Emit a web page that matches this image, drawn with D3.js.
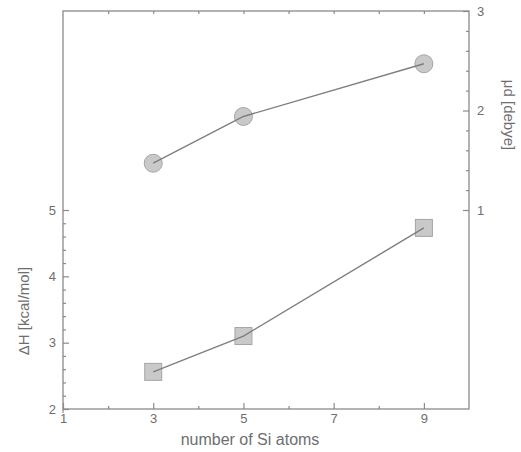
<!DOCTYPE html>
<html>
<head>
<meta charset="utf-8">
<script src="https://cdn.jsdelivr.net/npm/d3@7"></script>
<style>
  body { margin: 0; background: #fff; }
  text { font-family: "Liberation Sans", Arial, sans-serif; fill: #6e6e6e; }
</style>
</head>
<body>
<div id="chart"></div>
<script>
// data
var atoms = [3, 5, 9];
var deltaH = [2.56, 3.10, 4.73];      // kcal/mol, left axis (squares)
var dipole = [1.47, 1.94, 2.47];      // debye, right axis (circles)
var xTicks = [1, 3, 5, 7, 9];
var leftTicks = [2, 3, 4, 5];
var rightTicks = [1, 2, 3];

var outerWidth = 521, outerHeight = 452;
var margin = { left: 63, right: 469, top: 11, bottom: 409 };

var svg = d3.select("#chart").append("svg")
    .attr("width", outerWidth)
    .attr("height", outerHeight);

var x = d3.scaleLinear().domain([1, 10]).range([margin.left, margin.right]);
var yL = d3.scaleLinear().domain([2, 8]).range([margin.bottom, margin.top]);
var yR = d3.scaleLinear().domain([-1, 3]).range([margin.bottom, margin.top]);

var axisColor = "#8a8a8a";

// frame
svg.append("rect")
    .attr("x", margin.left).attr("y", margin.top)
    .attr("width", margin.right - margin.left).attr("height", margin.bottom - margin.top)
    .attr("fill", "none")
    .attr("stroke", axisColor)
    .attr("stroke-width", 1.3);

function styleAxis(g) {
  g.select(".domain").remove();
  g.selectAll(".tick line").attr("stroke", axisColor).attr("stroke-width", 1.2);
  g.selectAll(".tick text").style("font-size", "13px");
}

function minor(from, to) {
  return d3.range(from, to, 0.2).filter(function(v) { return Math.abs(v - Math.round(v)) > 0.01; });
}

// bottom axis: major at odd numbers, minor at evens
svg.append("g")
    .attr("transform", "translate(0," + margin.bottom + ")")
    .call(d3.axisBottom(x).tickValues(xTicks).tickSize(-6).tickPadding(5).tickFormat(d3.format("d")))
    .call(styleAxis);
svg.append("g")
    .attr("transform", "translate(0," + margin.bottom + ")")
    .call(d3.axisBottom(x).tickValues(d3.range(2, 10, 2)).tickSize(-3).tickFormat(""))
    .call(styleAxis);
// tick stub below at x=1
svg.append("line")
    .attr("x1", x(1)).attr("x2", x(1))
    .attr("y1", margin.bottom).attr("y2", margin.bottom + 4)
    .attr("stroke", axisColor).attr("stroke-width", 1.2);

// top axis ticks
svg.append("g")
    .attr("transform", "translate(0," + margin.top + ")")
    .call(d3.axisTop(x).tickValues(d3.range(2, 10)).tickSize(-3).tickFormat(""))
    .call(styleAxis);

// left axis
svg.append("g")
    .attr("transform", "translate(" + margin.left + ",0)")
    .call(d3.axisLeft(yL).tickValues(leftTicks).tickSize(-6).tickPadding(7).tickFormat(d3.format("d")))
    .call(styleAxis);
svg.append("g")
    .attr("transform", "translate(" + margin.left + ",0)")
    .call(d3.axisLeft(yL).tickValues(minor(2.2, 5)).tickSize(-3).tickFormat(""))
    .call(styleAxis);

// right axis
svg.append("g")
    .attr("transform", "translate(" + margin.right + ",0)")
    .call(d3.axisRight(yR).tickValues(rightTicks).tickSize(-6).tickPadding(8).tickFormat(d3.format("d")))
    .call(styleAxis);
svg.append("g")
    .attr("transform", "translate(" + margin.right + ",0)")
    .call(d3.axisRight(yR).tickValues(minor(1.2, 3)).tickSize(-3).tickFormat(""))
    .call(styleAxis);

// axis titles
svg.append("text")
    .attr("x", 250)
    .attr("y", 445)
    .attr("text-anchor", "middle")
    .style("font-size", "16px")
    .text("number of Si atoms");

svg.append("text")
    .attr("transform", "translate(29,311) rotate(-90)")
    .attr("text-anchor", "middle")
    .style("font-size", "15px")
    .text("ΔH [kcal/mol]");

svg.append("text")
    .attr("transform", "translate(504,115) rotate(90)")
    .attr("text-anchor", "middle")
    .style("font-size", "15px")
    .text("μd [debye]");

var markFill = "#c9c9c9", markStroke = "#a5a5a5", lineColor = "#7e7e7e";

var sq = atoms.map(function(a, i) { return [a, deltaH[i]]; });
var ci = atoms.map(function(a, i) { return [a, dipole[i]]; });

// squares (ΔH)
svg.selectAll(".sq")
    .data(sq)
    .enter().append("rect")
    .attr("class", "sq")
    .attr("x", function(d) { return x(d[0]) - 8.5; })
    .attr("y", function(d) { return yL(d[1]) - 8.5; })
    .attr("width", 17).attr("height", 17)
    .attr("fill", markFill)
    .attr("stroke", markStroke)
    .attr("stroke-width", 1);

// circles (dipole)
svg.selectAll(".ci")
    .data(ci)
    .enter().append("circle")
    .attr("class", "ci")
    .attr("cx", function(d) { return x(d[0]); })
    .attr("cy", function(d) { return yR(d[1]); })
    .attr("r", 9)
    .attr("fill", markFill)
    .attr("stroke", markStroke)
    .attr("stroke-width", 1);

// connecting lines
svg.append("path")
    .datum(sq)
    .attr("fill", "none")
    .attr("stroke", lineColor)
    .attr("stroke-width", 1.4)
    .attr("d", d3.line().x(function(d) { return x(d[0]); }).y(function(d) { return yL(d[1]); }));

svg.append("path")
    .datum(ci)
    .attr("fill", "none")
    .attr("stroke", lineColor)
    .attr("stroke-width", 1.4)
    .attr("d", d3.line().x(function(d) { return x(d[0]); }).y(function(d) { return yR(d[1]); }));
</script>
</body>
</html>
